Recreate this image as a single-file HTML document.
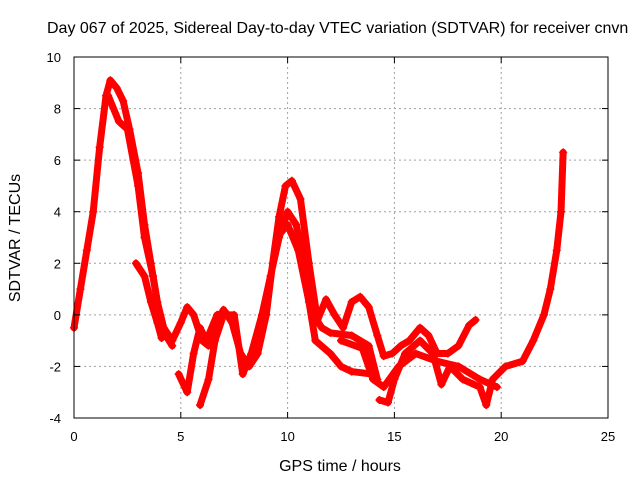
<!DOCTYPE html>
<html><head><meta charset="utf-8"><style>
body{margin:0;background:#fff;}
svg{display:block;font-family:"Liberation Sans",sans-serif;}
</style></head><body>
<svg id="chart" width="640" height="480" xmlns="http://www.w3.org/2000/svg">
<rect x="0" y="0" width="640" height="480" fill="#fff"/>
<g id="grid"></g>
<g id="series"></g>
<g id="axes"></g>
<text x="47" y="33" font-size="16">Day 067 of 2025, Sidereal Day-to-day VTEC variation (SDTVAR) for receiver cnvn</text>
<text x="340" y="471" font-size="16" text-anchor="middle">GPS time / hours</text>
<text transform="translate(20,238) rotate(-90)" font-size="16" text-anchor="middle">SDTVAR / TECUs</text>
</svg>
<script>
const xTicks=[0,5,10,15,20,25];
const yTicks=[-4,-2,0,2,4,6,8,10];
const trackA=[[0,-0.5],[0.3,1],[0.6,2.5],[0.9,4],[1.2,6.5],[1.5,8.5],[1.7,9.1],[2.0,8.8],[2.3,8.3],[2.6,7.2],[3.0,5.5],[3.3,3.5],[3.6,2],[3.9,0.5],[4.2,-0.5],[4.6,-1],[5.0,-0.3],[5.3,0.3],[5.6,0],[6.0,-1],[6.3,-1.2],[6.6,-0.5],[7.0,0.2],[7.4,-0.3],[7.8,-1.5],[8.2,-2],[8.6,-1.5],[9.0,0],[9.3,2],[9.6,3.8],[9.9,5],[10.2,5.2],[10.6,4.5],[11.0,2],[11.4,-0.2],[11.8,0.6],[12.2,0],[12.6,-0.5],[13.0,0.5],[13.4,0.7],[13.8,0.3],[14.2,-0.8],[14.5,-1.6],[14.9,-1.5],[15.3,-1.2],[15.7,-1],[16.2,-0.5],[16.6,-0.8],[17.0,-1.5],[17.5,-1.5],[18.0,-1.2],[18.5,-0.4],[18.8,-0.2]];
const trackB=[[1.6,8.5],[2.1,7.5],[2.5,7.2],[3.0,5],[3.3,3],[3.7,1.5],[4.0,0],[4.3,-0.8],[4.6,-1.2]];
const trackB2=[[2.9,2],[3.3,1.5],[3.6,0.5],[3.9,-0.3],[4.1,-0.9]];
const trackC=[[4.9,-2.3],[5.3,-3],[5.6,-1.5],[5.9,-0.5],[6.2,-1],[6.7,0],[7.1,0.1]];
const trackD=[[5.9,-3.5],[6.3,-2.5],[6.6,-1],[7.0,0],[7.5,0],[7.9,-2.3],[8.3,-1.5],[8.8,0],[9.2,1.5],[9.6,3],[10.0,4],[10.4,3.5],[10.8,2],[11.2,0],[11.6,-0.5],[12.0,-0.7],[13.0,-0.8],[13.8,-1.2],[14.2,-2.5]];
const trackB3=[[9.5,3],[10.0,3.5],[10.5,2.5],[11.0,0.5],[11.3,-1],[12.0,-1.5],[12.5,-2],[13.0,-2.2],[14.0,-2.3]];
const trackE=[[14.3,-3.3],[14.7,-3.4],[15.0,-2.5],[15.5,-1.5],[16.2,-1],[16.8,-1.5],[17.2,-2.7],[17.6,-2],[18.2,-2.5],[19.0,-2.8],[19.3,-3.5],[19.6,-2.5],[20.2,-2],[21.0,-1.8],[21.5,-1],[22.0,0],[22.3,1],[22.6,2.5],[22.8,4],[22.9,6.3]];
const trackF=[[12.5,-1],[13.5,-1.3],[14.0,-2.5],[14.5,-2.8],[15.2,-2],[16.0,-1.5],[17.0,-1.8],[18.0,-2],[19.0,-2.5],[19.8,-2.8]];
const tracks=[trackA,trackB,trackB2,trackC,trackD,trackB3,trackE,trackF];
const X0=74,X1=608,Y0=418,Y1=57,xmin=0,xmax=25,ymin=-4,ymax=10;
const sx=v=>X0+(v-xmin)/(xmax-xmin)*(X1-X0);
const sy=v=>Y0-(v-ymin)/(ymax-ymin)*(Y0-Y1);
const NS="http://www.w3.org/2000/svg";
function mk(t,a,p){const e=document.createElementNS(NS,t);for(const k in a)e.setAttribute(k,a[k]);p.appendChild(e);return e;}
const grid=document.getElementById('grid'),axes=document.getElementById('axes'),ser=document.getElementById('series');
xTicks.forEach(t=>{
 if(t>xmin&&t<xmax){const g=mk('line',{x1:sx(t),x2:sx(t),y1:Y1,y2:Y0,stroke:'#a0a0a0','stroke-dasharray':'2,3'},grid);
 
 }
 const l=mk('text',{x:sx(t),y:Y0+23,'font-size':13,'text-anchor':'middle'},axes);l.textContent=t;
 
 
 mk('line',{x1:sx(t),x2:sx(t),y1:Y0,y2:Y0-6,stroke:'#000'},axes);
 mk('line',{x1:sx(t),x2:sx(t),y1:Y1,y2:Y1+6,stroke:'#000'},axes);
});
yTicks.forEach(t=>{
 if(t>ymin&&t<ymax){const g=mk('line',{x1:X0,x2:X1,y1:sy(t),y2:sy(t),stroke:'#a0a0a0','stroke-dasharray':'2,3'},grid);
 
 }
 const l=mk('text',{x:X0-13,y:sy(t)+5,'font-size':13,'text-anchor':'end'},axes);l.textContent=t;
 
 
 mk('line',{x1:X0,x2:X0+6,y1:sy(t),y2:sy(t),stroke:'#000'},axes);
 mk('line',{x1:X1,x2:X1-6,y1:sy(t),y2:sy(t),stroke:'#000'},axes);
});
const fr=mk('rect',{x:X0,y:Y1,width:X1-X0,height:Y0-Y1,fill:'none',stroke:'#000'},axes);


tracks.forEach(tr=>{
 const p=mk('polyline',{points:tr.map(d=>sx(d[0])+','+sy(d[1])).join(' '),fill:'none',stroke:'#f00','stroke-width':7,'stroke-linejoin':'round','stroke-linecap':'round'},ser);
 
 
 tr.forEach(d=>{
  const m=mk('path',{d:`M${sx(d[0])-4},${sy(d[1])}h8M${sx(d[0])},${sy(d[1])-4}v8`,stroke:'#f00','stroke-width':1.5},ser);
  
  
 });
});
</script>
</body></html>
